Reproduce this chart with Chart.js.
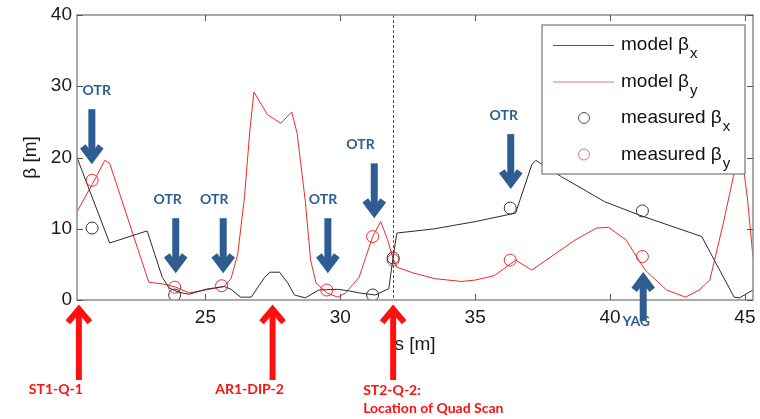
<!DOCTYPE html>
<html lang="en">
<head>
<meta charset="UTF-8">
<title>Beta functions</title>
<script src="https://cdn.jsdelivr.net/npm/chart.js"></script>
<style>
  html, body { margin: 0; padding: 0; background: #fff; }
</style>
</head>
<body>
<canvas id="betaCanvas" width="760" height="419"></canvas>
<script>
// model beta_x along the beamline (s in m, beta in m)
const modelXs = [20.24, 21.45, 22.84, 23.4, 23.65, 24.0, 24.4, 25.0, 25.7, 25.95, 26.3, 26.7, 27.2, 27.4, 27.75, 28.05, 28.3, 28.7, 29.2, 29.9, 30.3, 30.7, 31.3, 31.8, 31.96, 32.1, 33.05, 33.5, 35.0, 36.5, 37.1, 37.25, 38.2, 39.8, 41.1, 43.4, 44.6, 44.8, 45.3];
const modelXBeta = [20.0, 8.0, 9.7, 3.2, 1.7, 1.1, 0.8, 1.5, 1.9, 1.5, 0.4, 0.4, 3.2, 3.9, 3.9, 2.4, 0.7, 0.3, 1.4, 1.5, 1.3, 1.0, 0.7, 1.6, 6.1, 9.4, 9.8, 10.0, 11.0, 12.2, 19.0, 19.6, 17.3, 13.8, 11.9, 8.9, 0.4, 0.3, 1.4];

// model beta_y
const modelYs = [20.24, 20.8, 21.27, 21.45, 22.9, 23.5, 23.9, 24.4, 25.0, 25.7, 25.95, 26.2, 26.45, 26.65, 26.8, 27.3, 27.8, 28.2, 28.4, 28.7, 28.9, 29.1, 29.5, 29.9, 30.2, 30.7, 31.2, 31.5, 31.75, 31.96, 32.1, 32.7, 33.5, 34.5, 35.0, 35.7, 36.0, 36.5, 37.1, 38.7, 39.5, 39.95, 40.6, 41.3, 42.1, 42.8, 43.3, 43.7, 44.2, 44.6, 44.85, 45.1, 45.3];
const modelYBeta = [12.4, 16.2, 19.6, 19.2, 2.5, 2.2, 1.8, 1.0, 1.4, 1.9, 3.0, 6.5, 14.5, 23.9, 29.2, 26.0, 24.8, 26.4, 23.4, 14.0, 5.6, 2.4, 1.0, 0.4, 1.0, 3.2, 8.9, 11.0, 8.5, 5.8, 4.6, 3.8, 3.0, 2.6, 2.8, 3.4, 4.2, 5.6, 4.2, 8.4, 10.1, 10.2, 8.4, 4.2, 1.4, 0.4, 1.4, 2.8, 10.8, 17.8, 21.5, 14.0, 6.0];

// measured values
const measXs = [20.8, 23.86, 31.2, 31.96, 36.3, 41.2];
const measXBeta = [10.1, 0.7, 0.7, 5.9, 12.9, 12.5];
const measYs = [20.8, 23.86, 25.6, 29.5, 31.2, 31.96, 36.3, 41.2];
const measYBeta = [16.8, 1.8, 2.0, 1.4, 8.9, 5.6, 5.6, 6.1];

// axes
const xTicks = [25, 30, 35, 40, 45];
const yTicks = [0, 10, 20, 30, 40];
const xRange = [20.24, 45.3];
const yRange = [0, 40];

// screen markers (OTR) and the YAG
const otrS = [20.79, 23.9, 25.66, 29.54, 31.26, 36.32];
const otrTipBeta = [19.2, 3.9, 3.9, 3.9, 11.6, 15.7];
const otrLabelS = [20.97, 23.6, 25.33, 29.36, 30.75, 36.06];
const yagS = 41.23;
const yagTipBeta = 3.8;
const yagLabelS = 40.97;

// elements marked below the axis
const elemNames = ['ST1-Q-1', 'AR1-DIP-2', 'ST2-Q-2:'];
const elemS = [20.31, 27.49, 31.96];
const quadScanS = 31.96;

const legendLabels = [['model \u03b2', 'x'], ['model \u03b2', 'y'], ['measured \u03b2', 'x'], ['measured \u03b2', 'y']];

function pts(xs, ys) {
    return xs.map((x, i) => ({ x: x, y: ys[i] }));
}

const BLACK = '#2a2a2a';
const RED = '#ee2a2a';
const BLUE = '#2f5d92';

function arrow(ctx, x, yStart, yTip, w, hw, hl, color) {
    const dir = Math.sign(yTip - yStart);
    ctx.save();
    ctx.strokeStyle = color;
    ctx.lineWidth = w;
    ctx.lineCap = 'butt';
    ctx.lineJoin = 'miter';
    ctx.beginPath();
    ctx.moveTo(x, yStart);
    ctx.lineTo(x, yTip - dir * w);
    ctx.stroke();
    ctx.beginPath();
    ctx.moveTo(x - hw, yTip - dir * (hl + w * 0.7));
    ctx.lineTo(x, yTip - dir * w * 0.7);
    ctx.lineTo(x + hw, yTip - dir * (hl + w * 0.7));
    ctx.stroke();
    ctx.restore();
}

const frame = {
    id: 'frame',
    beforeDatasetsDraw(chart) {
        const { ctx, chartArea: a, scales: { x } } = chart;
        ctx.save();
        // quad scan position
        ctx.strokeStyle = '#3c3cff';
        ctx.lineWidth = 1;
        ctx.setLineDash([3, 2]);
        const qx = Math.round(x.getPixelForValue(quadScanS)) + 0.5;
        ctx.beginPath();
        ctx.moveTo(qx, a.top);
        ctx.lineTo(qx, a.bottom);
        ctx.stroke();
        ctx.setLineDash([]);
        ctx.restore();
    },
    afterDatasetsDraw(chart) {
        const { ctx, chartArea: a, scales: { x, y } } = chart;
        ctx.save();
        ctx.strokeStyle = '#8f8f8f';
        ctx.lineWidth = 1.5;
        ctx.strokeRect(a.left, a.top, a.right - a.left, a.bottom - a.top);
        ctx.lineWidth = 1;
        ctx.strokeStyle = '#555';
        ctx.beginPath();
        xTicks.forEach(v => {
            const px = Math.round(x.getPixelForValue(v)) + 0.5;
            ctx.moveTo(px, a.bottom); ctx.lineTo(px, a.bottom - 6);
            ctx.moveTo(px, a.top); ctx.lineTo(px, a.top + 6);
        });
        yTicks.forEach(v => {
            const py = Math.round(y.getPixelForValue(v)) + 0.5;
            ctx.moveTo(a.left, py); ctx.lineTo(a.left + 6, py);
            ctx.moveTo(a.right, py); ctx.lineTo(a.right - 6, py);
        });
        ctx.stroke();
        ctx.restore();
    },
    afterDraw(chart) {
        const { ctx, chartArea: a, scales: { x, y } } = chart;
        ctx.save();

        // legend box
        const lx = a.right - 211, ly = a.top + 10, lw = 203, lh = 149;
        ctx.fillStyle = '#fff';
        ctx.fillRect(lx, ly, lw, lh);
        ctx.strokeStyle = '#777';
        ctx.lineWidth = 1.2;
        ctx.strokeRect(lx, ly, lw, lh);
        legendLabels.forEach((lab, i) => {
            const ry = ly + 20 + i * 36.5;
            if (i < 2) {
                ctx.strokeStyle = i === 0 ? '#555' : '#f07070';
                ctx.lineWidth = 1;
                ctx.beginPath();
                ctx.moveTo(lx + 11, ry + 0.5);
                ctx.lineTo(lx + 72, ry + 0.5);
                ctx.stroke();
            } else {
                ctx.strokeStyle = i === 2 ? '#555' : '#f07070';
                ctx.lineWidth = 1;
                ctx.beginPath();
                ctx.arc(lx + 42, ry, 5.5, 0, Math.PI * 2);
                ctx.stroke();
            }
            ctx.fillStyle = '#111';
            ctx.textAlign = 'left';
            ctx.textBaseline = 'middle';
            ctx.font = '19px Arial, "Liberation Sans", sans-serif';
            ctx.fillText(lab[0], lx + 79, ry);
            const w = ctx.measureText(lab[0]).width;
            ctx.font = '15px Arial, "Liberation Sans", sans-serif';
            ctx.fillText(lab[1], lx + 79 + w + 1, ry + 9);
        });

        // OTR screens
        otrS.forEach((s, i) => {
            const px = x.getPixelForValue(s);
            const tip = y.getPixelForValue(otrTipBeta[i]);
            arrow(ctx, px, tip - 54, tip, 7, 9, 12, BLUE);
            ctx.fillStyle = BLUE;
            ctx.font = 'bold 14px Lato, "Open Sans", sans-serif';
            ctx.textAlign = 'center';
            ctx.textBaseline = 'middle';
            ctx.fillText('OTR', x.getPixelForValue(otrLabelS[i]), tip - 73);
        });

        // YAG screen
        const yx = x.getPixelForValue(yagS);
        const yt = y.getPixelForValue(yagTipBeta);
        arrow(ctx, yx, yt + 48, yt, 7, 9, 12, BLUE);
        ctx.fillStyle = BLUE;
        ctx.font = 'bold 14px Lato, "Open Sans", sans-serif';
        ctx.textAlign = 'center';
        ctx.fillText('YAG', x.getPixelForValue(yagLabelS), a.bottom + 21);

        // elements below the axis
        ctx.font = 'bold 14px Lato, "Open Sans", sans-serif';
        elemS.forEach((s, i) => {
            const px = x.getPixelForValue(s);
            arrow(ctx, px, a.bottom + 80, a.bottom + 5, 6, 11, 13, '#ff1010');
            ctx.fillStyle = '#ff1010';
            if (i < 2) {
                ctx.textAlign = 'center';
                ctx.fillText(elemNames[i], px - 23, a.bottom + 89);
            } else {
                ctx.textAlign = 'left';
                ctx.fillText(elemNames[i], px - 30, a.bottom + 90);
                ctx.fillText('Location of Quad Scan', px - 30, a.bottom + 108);
            }
        });
        ctx.restore();
    }
};

const tickFont = { family: 'Arial, "Liberation Sans", sans-serif', size: 19 };

new Chart(document.getElementById('betaCanvas').getContext('2d'), {
    type: 'line',
    data: {
        datasets: [
            { label: 'model \u03b2x', data: pts(modelXs, modelXBeta), borderColor: BLACK, borderWidth: 1, pointRadius: 0, tension: 0, order: 3 },
            { label: 'model \u03b2y', data: pts(modelYs, modelYBeta), borderColor: RED, borderWidth: 1, pointRadius: 0, tension: 0, order: 4 },
            { label: 'measured \u03b2x', data: pts(measXs, measXBeta), showLine: false, pointRadius: 6, pointBorderWidth: 1, pointBorderColor: '#333', pointBackgroundColor: 'rgba(0,0,0,0)', order: 1 },
            { label: 'measured \u03b2y', data: pts(measYs, measYBeta), showLine: false, pointRadius: 6, pointBorderWidth: 1, pointBorderColor: RED, pointBackgroundColor: 'rgba(0,0,0,0)', order: 2 }
        ]
    },
    options: {
        responsive: false,
        animation: false,
        devicePixelRatio: 1,
        layout: { padding: { top: 15, right: 1, left: 0, bottom: 0 } },
        plugins: { legend: { display: false }, tooltip: { enabled: false } },
        scales: {
            x: {
                type: 'linear',
                min: xRange[0],
                max: xRange[1],
                grid: { display: false, drawTicks: false },
                border: { display: false },
                ticks: { font: tickFont, color: '#1a1a1a', padding: 6, maxRotation: 0 },
                title: { display: true, text: 's [m]', font: tickFont, color: '#1a1a1a', padding: { top: 0, bottom: 63 } },
                afterBuildTicks: scale => { scale.ticks = xTicks.map(v => ({ value: v })); },
                afterFit: scale => { scale.height = 119; scale.paddingLeft = 0; scale.paddingRight = 0; }
            },
            y: {
                min: yRange[0],
                max: yRange[1],
                grid: { display: false, drawTicks: false },
                border: { display: false },
                ticks: { font: tickFont, color: '#1a1a1a', padding: 5 },
                title: { display: true, text: '\u03b2 [m]', font: tickFont, color: '#1a1a1a', padding: { top: 19, bottom: 0 } },
                afterBuildTicks: scale => { scale.ticks = yTicks.map(v => ({ value: v })); },
                afterFit: scale => { scale.width = 77; scale.paddingTop = 0; scale.paddingBottom = 0; }
            }
        }
    },
    plugins: [frame]
});
</script>
</body>
</html>
